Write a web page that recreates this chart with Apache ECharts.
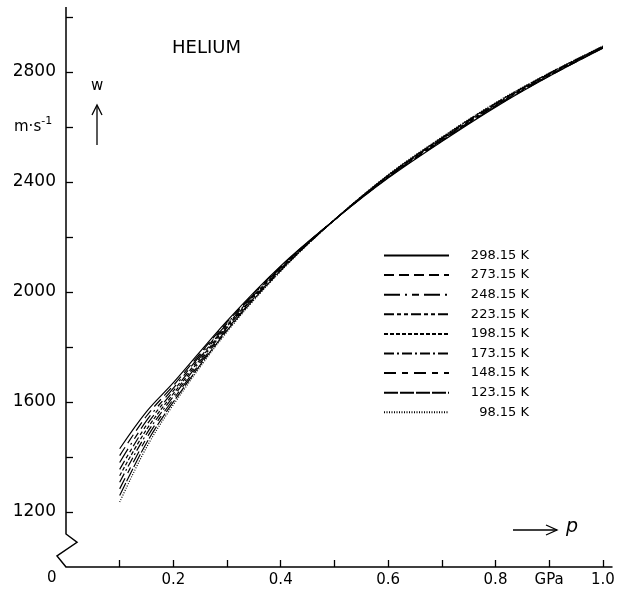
<!DOCTYPE html>
<html>
<head>
<meta charset="utf-8">
<script src="https://cdn.jsdelivr.net/npm/echarts@6/dist/echarts.min.js"></script>
<style>
  html, body { margin: 0; padding: 0; background: #fff; }
  #main { width: 618px; height: 591px; }
</style>
</head>
<body>
<div id="main"></div>
<script>
// pressure in GPa
var pressure = [0.1, 0.15, 0.2, 0.3, 0.4, 0.5, 0.6, 0.7, 0.8, 0.9, 1.0];
var temps = ['298.15 K', '273.15 K', '248.15 K', '223.15 K', '198.15 K', '173.15 K', '148.15 K', '123.15 K', '98.15 K'];
// speed of sound w in m/s, one array per isotherm
var w298 = [1430, 1565, 1670, 1895, 2095, 2262, 2414, 2547, 2672, 2784, 2886];
var w273 = [1405, 1549, 1660, 1890, 2092, 2262, 2416, 2549, 2674, 2785, 2887];
var w248 = [1380, 1532, 1650, 1885, 2090, 2262, 2417, 2551, 2676, 2787, 2888];
var w223 = [1355, 1516, 1640, 1880, 2088, 2262, 2418, 2553, 2678, 2788, 2889];
var w198 = [1332, 1500, 1630, 1875, 2085, 2262, 2420, 2555, 2680, 2790, 2890];
var w173 = [1308, 1484, 1620, 1870, 2082, 2262, 2422, 2557, 2682, 2792, 2891];
var w148 = [1284, 1468, 1610, 1865, 2080, 2262, 2423, 2559, 2684, 2793, 2892];
var w123 = [1260, 1451, 1600, 1860, 2078, 2262, 2424, 2561, 2686, 2795, 2893];
var w98  = [1236, 1435, 1590, 1855, 2075, 2262, 2426, 2563, 2688, 2796, 2894];
var allW = [w298, w273, w248, w223, w198, w173, w148, w123, w98];
// dash pattern of each isotherm
var dashes = [
  'solid',
  [10, 5],
  [16, 5, 2, 5, 7, 5],
  [10, 3, 4, 3, 4, 3],
  [4, 2],
  [10, 3, 2, 3],
  [12, 6, 6, 6],
  [14, 2],
  [1, 1.5]
];
var xTicks = [0.1, 0.2, 0.3, 0.4, 0.5, 0.6, 0.7, 0.8, 0.9, 1.0];
var xLabels = [0.2, 0.4, 0.6, 0.8, 0.9, 1.0];
var yTicks = [1200, 1400, 1600, 1800, 2000, 2200, 2400, 2600, 2800, 3000];
var yLabels = [1200, 1600, 2000, 2400, 2800];

var font = 'DejaVu Sans';
var myChart = echarts.init(document.getElementById('main'));

var series = [];
for (var i = 0; i < temps.length; i++) {
  var pts = [];
  for (var j = 0; j < pressure.length; j++) {
    pts.push([pressure[j], allW[i][j]]);
  }
  series.push({
    name: temps[i],
    type: 'line',
    data: pts,
    smooth: 0.35,
    symbol: 'none',
    silent: true,
    itemStyle: { color: '#000' },
    lineStyle: { color: '#000', width: 1.2, type: dashes[i] }
  });
}

option = {
  backgroundColor: '#fff',
  animation: false,
  grid: { left: 66, right: 6, top: 7, bottom: 24 },
  legend: {
    orient: 'vertical',
    left: 378,
    top: 244,
    itemWidth: 65,
    itemHeight: 12,
    itemGap: 6.6,
    selectedMode: false,
    data: temps,
    itemStyle: { color: 'rgba(0,0,0,0)', borderWidth: 0, opacity: 0 },
    formatter: function (name) { return '{t|' + name + '}'; },
    textStyle: {
      rich: {
        t: { width: 75, height: 12, lineHeight: 12, align: 'right', fontSize: 13, fontFamily: font, color: '#000' }
      }
    }
  },
  xAxis: {
    type: 'value',
    min: 0,
    max: 1.017,
    axisLine: { show: true, lineStyle: { color: '#000', width: 1.5 } },
    axisTick: { show: true, inside: true, length: 7, customValues: xTicks, lineStyle: { color: '#000', width: 1.3 } },
    splitLine: { show: false },
    axisLabel: {
      customValues: xLabels,
      margin: 6,
      fontSize: 15,
      fontFamily: font,
      color: '#000',
      formatter: function (v) {
        var k = Math.round(v * 10);
        if (k === 9) return 'GPa';
        return (k / 10).toFixed(1);
      }
    }
  },
  yAxis: {
    type: 'value',
    min: 1000,
    max: 3036,
    axisLine: { show: false },
    axisTick: { show: true, inside: true, length: 7, customValues: yTicks, lineStyle: { color: '#000', width: 1.3 } },
    splitLine: { show: false },
    axisLabel: {
      customValues: yLabels,
      margin: 10,
      fontSize: 17,
      fontFamily: font,
      color: '#000',
      formatter: function (v) { return String(v); }
    }
  },
  series: series
};
myChart.setOption(option);

// axis line with the break, texts and arrows
var px = function (x, y) { return myChart.convertToPixel({ gridIndex: 0 }, [x, y]); };
var top0 = px(0, 3036), b1 = px(0, 1120), b2 = px(0, 1090), b3 = px(0, 1040), b4 = px(0, 1000);
myChart.setOption({
  graphic: [
    { type: 'polyline', silent: true,
      shape: { points: [top0, b1, [b2[0] + 11, b2[1]], [b3[0] - 9, b3[1]], b4] },
      style: { stroke: '#000', lineWidth: 1.5, fill: null } },
    { type: 'text', left: 47, top: 571, style: { text: '0', fontSize: 15, fontFamily: font, fill: '#000' } },
    { type: 'text', left: 172, top: 39, style: { text: 'HELIUM', fontSize: 18, fontFamily: font, fill: '#000' } },
    { type: 'text', left: 91, top: 79, style: { text: 'w', fontSize: 15, fontFamily: font, fill: '#000' } },
    { type: 'line', silent: true, shape: { x1: 97, y1: 145, x2: 97, y2: 106 }, style: { stroke: '#000', lineWidth: 1.3 } },
    { type: 'polyline', silent: true, shape: { points: [[92, 115], [97, 105], [102, 115]] }, style: { stroke: '#000', lineWidth: 1.3, fill: null } },
    { type: 'text', left: 14, top: 116, style: {
        text: '{a|m·s}{b|-1}', fill: '#000',
        rich: { a: { fontSize: 15, fontFamily: font, verticalAlign: 'bottom' }, b: { fontSize: 11, fontFamily: font, verticalAlign: 'top', padding: [0, 0, 8, 0] } }
      } },
    { type: 'line', silent: true, shape: { x1: 513, y1: 530, x2: 557, y2: 530 }, style: { stroke: '#000', lineWidth: 1.3 } },
    { type: 'polyline', silent: true, shape: { points: [[546, 525], [557, 530], [546, 535]] }, style: { stroke: '#000', lineWidth: 1.3, fill: null } },
    { type: 'text', left: 566, top: 518, style: { text: 'p', fontSize: 19, fontStyle: 'italic', fontFamily: font, fill: '#000' } }
  ]
});
</script>
</body>
</html>
